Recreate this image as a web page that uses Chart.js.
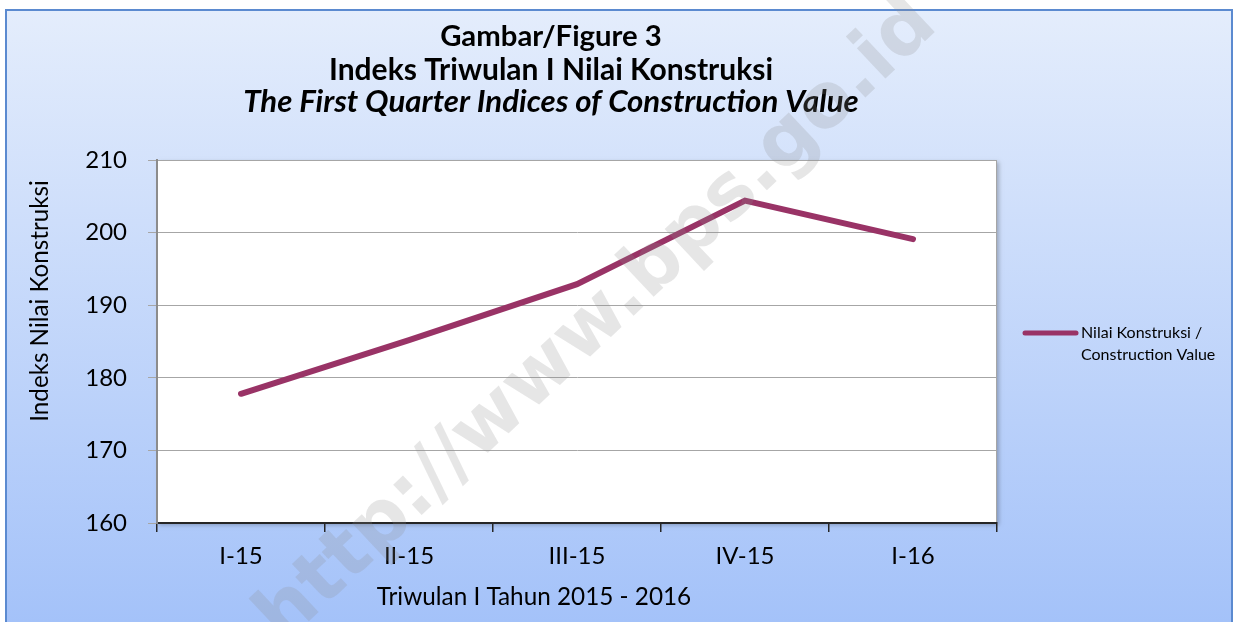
<!DOCTYPE html>
<html>
<head>
<meta charset="utf-8">
<script src="https://cdn.jsdelivr.net/npm/chart.js@4"></script>
<style>
  html, body { margin: 0; padding: 0; background: #fff; }
  #wrap { width: 1237px; height: 622px; }
</style>
</head>
<body>
<div id="wrap"><canvas id="chart" width="1237" height="622"></canvas></div>
<script>
// data
const quarters = ['I-15', 'II-15', 'III-15', 'IV-15', 'I-16'];
const indexValues = [177.8, 185.2, 192.9, 204.4, 199.1];
const yTicks = [160, 170, 180, 190, 200, 210];

const titleLines = ['Gambar/Figure 3', 'Indeks Triwulan I Nilai Konstruksi', 'The First Quarter Indices of Construction Value'];
const seriesLabel = ['Nilai Konstruksi /', 'Construction Value'];
const xTitle = 'Triwulan I Tahun 2015 - 2016';
const yTitle = 'Indeks Nilai Konstruksi';
const watermark = 'http://www.bps.go.id';

const FONT = 'Lato, "Open Sans", sans-serif';
const LINE_COLOR = '#993366';

// fit a text to a given width by picking the font size
function fitFont(ctx, text, style, width, family) {
  family = family || FONT;
  ctx.font = style + ' 30px ' + family;
  const w = ctx.measureText(text).width;
  return style + ' ' + (30 * width / w).toFixed(1) + 'px ' + family;
}

const decor = {
  id: 'decor',
  beforeDraw(chart) {
    const ctx = chart.ctx;
    const a = chart.chartArea;
    ctx.save();
    const g = ctx.createLinearGradient(0, 10, 0, 622);
    g.addColorStop(0, '#e4edfc');
    g.addColorStop(1, '#a4c2f9');
    ctx.fillStyle = g;
    ctx.fillRect(6, 10, 1226, 620);
    ctx.strokeStyle = '#5b8ad0';
    ctx.lineWidth = 2;
    ctx.strokeRect(6, 10, 1226, 640);
    // plot area
    ctx.shadowColor = 'rgba(0,0,0,0.25)';
    ctx.shadowBlur = 4;
    ctx.shadowOffsetX = 2;
    ctx.shadowOffsetY = 2;
    ctx.fillStyle = '#ffffff';
    ctx.fillRect(a.left, a.top, a.right - a.left, a.bottom - a.top);
    ctx.shadowColor = 'transparent';
    ctx.strokeStyle = '#a6a6a6';
    ctx.lineWidth = 1;
    ctx.strokeRect(a.left + 0.5, a.top + 0.5, a.right - a.left - 1, a.bottom - a.top);
    ctx.restore();
  },
  afterDraw(chart) {
    const ctx = chart.ctx;
    ctx.save();
    ctx.fillStyle = '#000';
    ctx.textAlign = 'center';
    ctx.textBaseline = 'middle';
    // title
    ctx.font = fitFont(ctx, titleLines[0], 'bold', 222);
    ctx.fillText(titleLines[0], 551, 37);
    ctx.font = fitFont(ctx, titleLines[1], 'bold', 444);
    ctx.fillText(titleLines[1], 551, 70);
    ctx.font = fitFont(ctx, titleLines[2], 'italic bold', 615);
    ctx.fillText(titleLines[2], 551, 102);
    // axis titles
    ctx.font = fitFont(ctx, xTitle, '', 315);
    ctx.fillText(xTitle, 534, 597);
    ctx.save();
    ctx.translate(40, 301);
    ctx.rotate(-Math.PI / 2);
    ctx.font = fitFont(ctx, yTitle, '', 242);
    ctx.fillText(yTitle, 0, 0);
    ctx.restore();
    // legend
    ctx.strokeStyle = LINE_COLOR;
    ctx.lineWidth = 5;
    ctx.lineCap = 'round';
    ctx.beginPath();
    ctx.moveTo(1025, 333);
    ctx.lineTo(1076, 333);
    ctx.stroke();
    ctx.textAlign = 'left';
    ctx.font = fitFont(ctx, seriesLabel[1], '', 134);
    ctx.fillText(seriesLabel[0], 1081, 333);
    ctx.fillText(seriesLabel[1], 1081, 355);
    // watermark
    ctx.translate(598, 322);
    ctx.rotate(-0.755);
    ctx.textAlign = 'center';
    ctx.font = fitFont(ctx, watermark, 'bold', 900, '"DejaVu Sans", sans-serif');
    ctx.fillStyle = 'rgba(140,140,140,0.22)';
    ctx.fillText(watermark, 0, 0);
    ctx.restore();
  }
};

new Chart(document.getElementById('chart'), {
  type: 'line',
  data: {
    labels: quarters,
    datasets: [{
      label: seriesLabel.join(' '),
      data: indexValues,
      borderColor: LINE_COLOR,
      borderWidth: 6,
      pointRadius: 0,
      tension: 0,
      borderCapStyle: 'round'
    }]
  },
  options: {
    responsive: false,
    animation: false,
    layout: { padding: { left: 0, top: 160, right: 240, bottom: 0 } },
    plugins: {
      legend: { display: false },
      title: { display: false },
      tooltip: { enabled: false }
    },
    scales: {
      x: {
        offset: true,
        grid: {
          offset: true,
          drawOnChartArea: false,
          color: '#262626',
          tickLength: 9,
          lineWidth: 1.5
        },
        border: { color: '#262626', width: 2 },
        ticks: {
          color: '#000',
          font: { family: FONT, size: 24 },
          padding: 10
        },
        afterFit(scale) { scale.height = 99; }
      },
      y: {
        min: yTicks[0],
        max: yTicks[yTicks.length - 1],
        afterBuildTicks(scale) { scale.ticks = yTicks.map(v => ({ value: v })); },
        grid: { color: '#a6a6a6', tickLength: 9, lineWidth: 1 },
        border: { color: '#8c8c8c', width: 2 },
        ticks: {
          color: '#000',
          font: { family: FONT, size: 24 },
          padding: 21
        },
        afterFit(scale) { scale.width = 157; }
      }
    }
  },
  plugins: [decor]
});
</script>
</body>
</html>
